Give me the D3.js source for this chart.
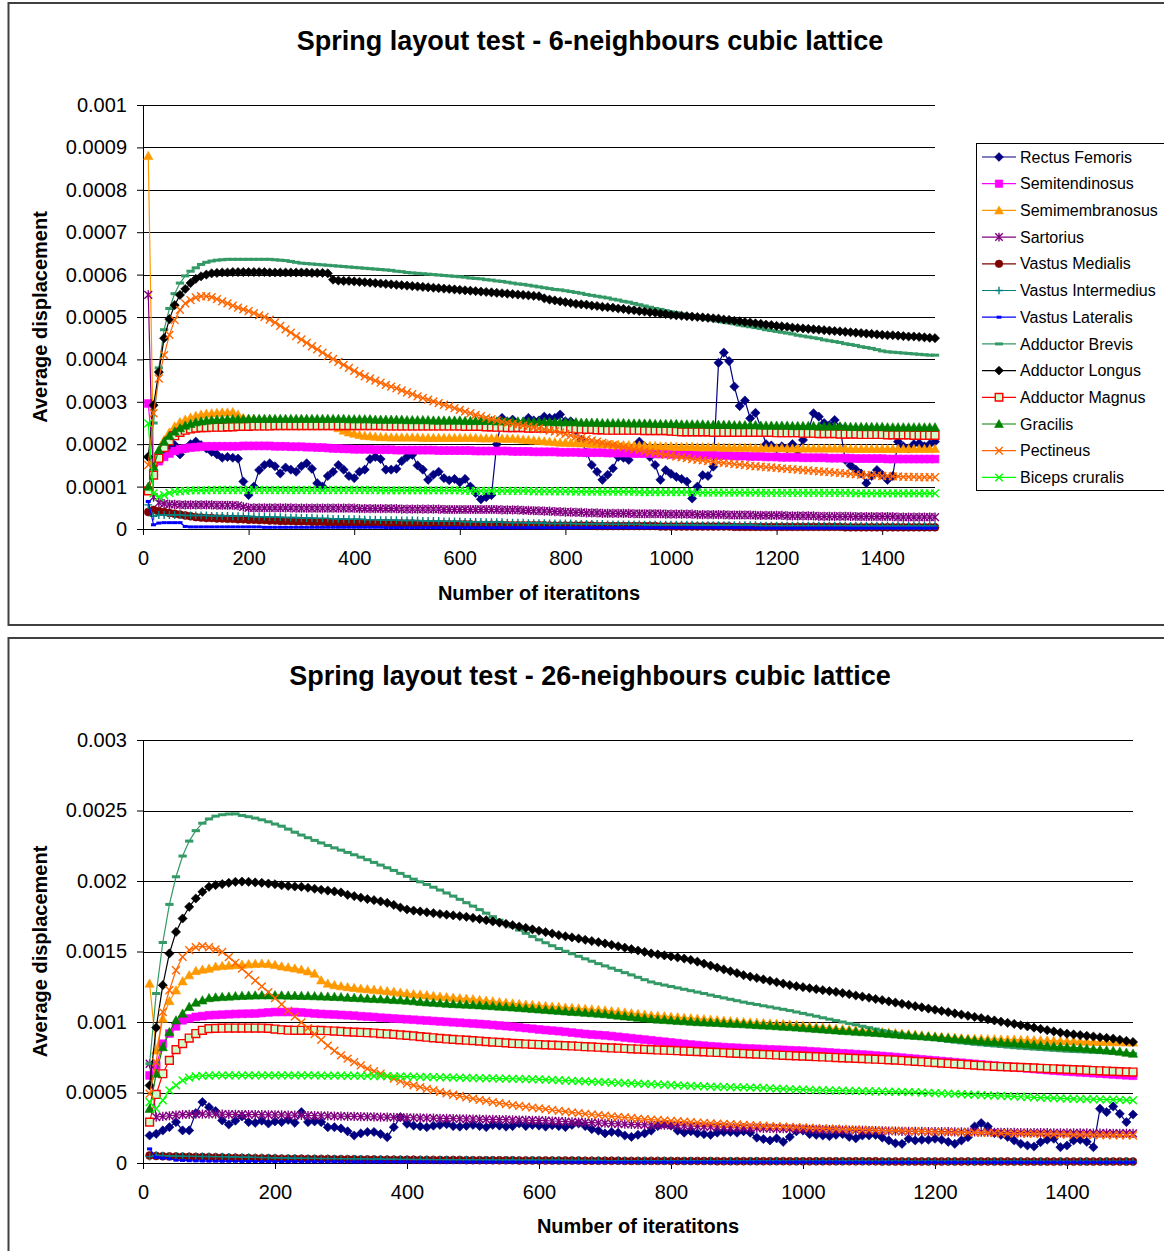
<!DOCTYPE html>
<html lang="en">
  <head>
    <meta charset="utf-8">
    <title>Spring layout test</title>
    <script src="https://cdnjs.cloudflare.com/ajax/libs/d3/7.8.5/d3.min.js"></script>
    <style>
      body { margin: 0; background: #fff; }
      svg text { font-family: "Liberation Sans", Arial, sans-serif; fill: #000; }
      .title { font-size: 27px; font-weight: bold; }
      .axis-title { font-size: 20px; font-weight: bold; }
      .axis text { font-size: 20px; }
      .legend-text { font-size: 16px; }
    </style>
  </head>
  <body>
    <script>
      // Sample points (iteration number) shared by every series
      const iterations = [
        10,20,30,40,50,60,70,80,90,100,
        110,120,130,140,150,160,170,180,190,200,
        210,220,230,240,250,260,270,280,290,300,
        310,320,330,340,350,360,370,380,390,400,
        410,420,430,440,450,460,470,480,490,500,
        510,520,530,540,550,560,570,580,590,600,
        610,620,630,640,650,660,670,680,690,700,
        710,720,730,740,750,760,770,780,790,800,
        810,820,830,840,850,860,870,880,890,900,
        910,920,930,940,950,960,970,980,990,1000,
        1010,1020,1030,1040,1050,1060,1070,1080,1090,1100,
        1110,1120,1130,1140,1150,1160,1170,1180,1190,1200,
        1210,1220,1230,1240,1250,1260,1270,1280,1290,1300,
        1310,1320,1330,1340,1350,1360,1370,1380,1390,1400,
        1410,1420,1430,1440,1450,1460,1470,1480,1490,1500
      ];

      const xTicks = [0, 200, 400, 600, 800, 1000, 1200, 1400];
      const yTicks6 = [0, 0.0001, 0.0002, 0.0003, 0.0004, 0.0005, 0.0006, 0.0007, 0.0008, 0.0009, 0.001];
      const yTicks26 = [0, 0.0005, 0.001, 0.0015, 0.002, 0.0025, 0.003];

      const muscles = [
        "Rectus Femoris", "Semitendinosus", "Semimembranosus", "Sartorius",
        "Vastus Medialis", "Vastus Intermedius", "Vastus Lateralis", "Adductor Brevis",
        "Adductor Longus", "Adductor Magnus", "Gracilis", "Pectineus", "Biceps cruralis"
      ];

      // all displacement values below are in millionths (1e-6)
      const unit = 1e-6;

      // ---- 6-neighbours lattice ----
      const rectusFemoris6 = [
        170,150,172,180,192,198,176,190,200,206,
        198,190,182,176,168,170,168,166,112,80,
        100,139,151,155,148,131,145,140,135,148,
        155,142,108,100,125,135,151,140,125,120,
        135,140,165,170,165,140,140,142,160,170,
        175,150,140,116,128,135,120,115,118,110,
        118,100,85,70,75,80,200,262,253,258,
        250,250,262,256,256,265,262,262,270,254,
        254,233,210,180,151,135,116,128,143,170,
        168,163,180,206,195,170,151,116,139,130,
        123,118,112,72,100,127,125,147,392,416,
        396,336,290,303,261,274,240,200,197,190,
        195,190,200,185,210,230,273,265,250,245,
        257,240,163,150,140,131,108,125,139,128,
        116,125,206,195,190,200,202,195,200,206
      ];
      const semitendinosus6 = [
        296,155,160,170,178,184,188,190,192,193,
        194,195,195,195,195,195,195,195,196,196,
        196,196,196,196,195,195,195,194,194,194,
        193,193,192,192,191,190,190,189,189,188,
        188,188,188,187,187,187,187,186,186,186,
        186,186,186,186,186,185,185,185,185,185,
        185,185,184,184,184,184,184,184,184,183,
        183,183,183,182,182,182,182,182,181,181,
        181,181,180,180,180,180,180,179,179,179,
        179,179,178,178,178,178,177,177,177,176,
        176,176,175,175,175,174,174,174,173,173,
        173,172,172,172,171,171,171,170,170,170,
        169,169,169,169,168,168,168,168,168,167,
        167,167,167,167,166,166,166,166,166,166,
        165,165,165,165,165,165,165,165,165,165
      ];
      const semimembranosus6 = [
        880,160,185,210,228,242,252,258,263,267,
        270,272,273,274,275,275,276,270,262,260,
        259,258,258,258,257,257,257,256,256,256,
        256,256,255,255,252,245,238,232,228,225,
        222,220,219,218,217,217,216,216,216,216,
        216,216,215,215,215,215,215,215,215,215,
        215,215,215,214,214,214,214,213,213,213,
        212,211,210,209,208,207,206,205,204,204,
        203,203,202,202,201,201,200,200,199,199,
        198,198,197,197,196,196,196,195,195,195,
        194,194,194,194,193,193,193,193,193,192,
        192,192,192,192,192,191,191,191,191,191,
        191,190,190,190,190,190,190,190,190,190,
        190,190,190,189,189,189,189,189,189,189,
        189,189,189,189,189,189,189,189,189,189
      ];
      const sartorius6 = [
        552,75,62,60,58,58,57,57,57,57,
        57,57,57,56,56,56,56,55,52,50,
        50,50,50,50,50,50,50,50,49,49,
        49,49,49,49,49,49,49,49,49,49,
        48,48,48,48,48,48,48,48,47,47,
        47,47,47,47,47,47,46,46,46,46,
        46,46,46,46,46,46,46,45,45,45,
        45,44,44,43,43,42,42,41,41,40,
        40,39,39,38,38,38,37,37,37,37,
        37,37,36,36,36,36,36,36,35,35,
        35,35,35,35,34,34,34,34,34,34,
        33,33,33,33,33,32,32,32,32,32,
        32,31,31,31,31,31,31,30,30,30,
        30,30,30,30,29,29,29,29,29,29,
        29,29,28,28,28,28,28,28,28,28
      ];
      const vastusMedialis6 = [
        40,45,42,40,38,36,34,32,30,28,
        27,26,26,25,25,24,24,23,23,22,
        22,21,21,20,20,19,19,19,18,18,
        18,17,17,17,16,16,16,16,15,15,
        15,15,14,14,14,14,13,13,13,13,
        13,12,12,12,12,12,11,11,11,11,
        11,11,10,10,10,10,10,10,9,9,
        9,9,9,9,9,9,8,8,8,8,
        8,8,8,8,8,7,7,7,7,7,
        7,7,7,7,7,7,7,6,6,6,
        6,6,6,6,6,6,6,6,6,6,
        6,5,5,5,5,5,5,5,5,5,
        5,5,5,5,5,5,5,5,5,5,
        5,5,4,4,4,4,4,4,4,4,
        4,4,4,4,4,4,4,4,4,4
      ];
      const vastusIntermedius6 = [
        57,30,33,33,33,33,33,32,32,32,
        32,32,31,31,31,31,30,30,30,30,
        29,29,29,28,28,28,27,27,27,26,
        26,26,25,25,25,24,24,24,23,23,
        23,22,22,22,21,21,21,21,20,20,
        20,20,19,19,19,19,18,18,18,18,
        17,17,17,17,16,16,16,16,15,15,
        15,15,14,14,14,14,13,13,13,13,
        13,12,12,12,12,12,12,11,11,11,
        11,11,11,11,10,10,10,10,10,10,
        10,10,10,10,9,9,9,9,9,9,
        9,9,9,9,9,9,8,8,8,8,
        8,8,8,8,8,8,8,8,8,8,
        8,8,8,7,7,7,7,7,7,7,
        7,7,7,7,7,7,7,7,7,7
      ];
      const vastusLateralis6 = [
        65,10,14,15,15,15,15,6,5,5,
        5,5,5,5,5,5,5,5,5,5,
        5,5,4,4,4,4,4,4,4,4,
        4,4,4,4,4,4,4,4,4,4,
        4,4,4,4,4,3,3,3,3,3,
        3,3,3,3,3,3,3,3,3,3,
        3,3,3,3,3,3,3,3,3,3,
        3,3,3,3,3,3,3,3,3,3,
        3,3,3,3,3,3,3,3,3,3,
        3,3,3,3,3,3,3,3,3,3,
        3,3,3,3,3,3,3,3,3,3,
        3,3,3,3,3,2,2,2,2,2,
        2,2,2,2,2,2,2,2,2,2,
        2,2,2,2,2,2,2,2,2,2,
        2,2,2,2,2,2,2,2,2,2
      ];
      const adductorBrevis6 = [
        170,250,380,470,520,555,580,597,608,616,
        624,629,632,634,635,636,636,636,636,636,
        636,636,636,636,635,634,633,631,629,627,
        626,625,624,623,622,621,620,619,618,617,
        616,615,614,613,612,611,610,608,607,605,
        604,603,602,601,600,599,598,597,596,595,
        594,592,591,590,588,587,585,584,582,580,
        578,577,575,573,571,569,567,565,564,562,
        560,558,556,553,551,549,547,545,542,540,
        537,535,532,529,526,523,520,518,515,512,
        510,507,505,502,500,498,495,493,490,488,
        486,484,481,479,477,475,473,470,468,466,
        464,462,460,457,455,453,451,449,446,444,
        442,440,437,435,433,430,428,426,423,420,
        418,417,416,415,414,413,412,411,410,410
      ];
      const adductorLongus6 = [
        170,292,370,450,495,528,552,566,580,590,
        596,600,603,604,605,605,606,606,606,606,
        606,606,606,605,605,605,605,605,605,605,
        605,604,604,604,603,588,586,585,585,584,
        583,582,581,580,579,578,577,576,575,574,
        573,572,571,570,569,568,567,566,565,564,
        563,562,561,560,559,558,557,556,555,554,
        553,552,551,550,549,544,541,539,537,535,
        533,531,530,529,527,526,524,523,522,520,
        519,517,516,514,513,511,510,508,507,505,
        504,503,502,501,500,499,498,497,496,494,
        493,491,490,488,487,485,484,482,481,479,
        478,477,475,474,473,472,471,470,469,468,
        467,466,465,464,463,462,461,460,459,458,
        457,457,456,455,454,454,453,452,451,450
      ];
      const adductorMagnus6 = [
        90,127,167,192,208,220,228,233,236,238,
        239,239,240,240,240,241,241,242,242,242,
        243,243,243,243,244,244,244,244,244,244,
        244,244,244,244,244,244,244,244,244,244,
        244,244,244,244,244,243,243,243,243,243,
        243,243,243,243,243,243,243,243,243,243,
        242,242,242,242,241,241,240,240,239,239,
        239,239,238,238,238,238,238,238,238,237,
        237,236,236,235,235,234,234,233,233,233,
        233,233,233,233,232,232,232,232,232,231,
        230,229,229,229,229,229,229,228,228,228,
        228,228,228,228,228,228,228,228,228,227,
        227,227,227,227,226,226,226,225,225,225,
        225,224,224,224,224,223,223,223,223,223,
        222,222,222,222,222,221,221,221,221,221
      ];
      const gracilis6 = [
        100,147,186,206,220,230,238,244,248,252,
        254,256,257,258,258,259,259,259,259,260,
        260,260,260,260,260,260,260,260,260,260,
        260,260,260,260,260,260,260,260,259,259,
        259,259,259,258,258,258,258,258,258,257,
        257,257,257,257,256,256,256,256,256,256,
        255,255,255,255,255,255,254,254,254,254,
        254,254,253,253,253,253,253,252,252,252,
        252,252,251,251,251,251,250,250,250,250,
        250,249,249,249,249,249,248,248,248,248,
        248,247,247,247,247,247,246,246,246,246,
        246,245,245,245,245,245,244,244,244,244,
        244,244,243,243,243,243,243,242,242,242,
        242,242,242,241,241,241,241,241,241,241,
        240,240,240,240,240,240,240,240,240,240
      ];
      const pectineus6 = [
        151,273,355,410,458,493,517,532,540,546,
        549,549,547,542,537,532,527,522,518,514,
        509,504,500,494,487,479,471,463,455,447,
        439,431,424,416,408,401,394,387,380,373,
        366,360,355,350,345,340,336,332,327,322,
        318,313,309,305,301,297,293,289,285,281,
        277,273,269,266,262,259,256,253,250,248,
        246,244,242,240,237,235,232,230,227,224,
        221,218,215,212,209,206,203,200,198,195,
        193,190,188,186,183,181,179,177,175,173,
        171,169,167,165,163,162,160,159,157,156,
        155,153,152,151,149,148,147,146,145,144,
        143,142,141,140,139,138,137,136,135,134,
        133,132,131,130,129,128,127,127,126,125,
        125,124,124,123,123,123,122,122,122,122
      ];
      const bicepsCruralis6 = [
        249,84,76,80,85,88,89,90,91,91,
        91,91,92,92,92,92,92,92,92,92,
        92,92,92,92,92,92,92,92,92,92,
        92,92,92,92,92,92,92,92,92,92,
        92,92,92,92,91,91,91,91,91,91,
        91,91,91,91,91,91,91,91,91,91,
        90,90,90,90,90,90,90,90,90,90,
        90,90,90,89,89,89,89,89,89,89,
        89,88,88,88,88,88,88,88,88,88,
        88,88,88,87,87,87,87,87,87,87,
        87,87,87,87,86,86,86,86,86,86,
        86,86,86,86,86,86,85,85,85,85,
        85,85,85,85,85,85,85,85,85,85,
        85,85,85,85,84,84,84,84,84,84,
        84,84,84,84,84,84,84,84,84,84
      ];

      // ---- 26-neighbours lattice ----
      const rectusFemoris26 = [
        195,207,231,254,290,231,231,354,432,396,
        368,302,273,300,330,290,285,300,280,295,
        290,305,285,361,290,295,290,254,254,245,
        225,195,210,220,220,205,183,254,325,278,
        265,260,254,265,270,275,262,258,264,270,
        262,255,270,265,258,262,280,262,270,265,
        258,268,262,255,270,280,262,240,230,210,
        220,215,195,185,200,210,230,262,275,265,
        230,215,225,210,205,200,215,220,220,215,
        225,215,180,170,160,175,150,185,225,230,
        205,200,195,190,200,205,185,175,195,195,
        200,180,160,140,136,172,160,165,165,172,
        165,150,136,160,183,259,283,259,212,200,
        185,160,136,124,117,148,165,172,112,124,
        160,165,150,112,385,361,401,349,290,344
      ];
      const semitendinosus26 = [
        621,692,846,918,969,1012,1025,1036,1042,1048,
        1050,1052,1055,1057,1058,1059,1060,1064,1068,1071,
        1071,1071,1071,1068,1064,1060,1057,1055,1053,1050,
        1048,1045,1041,1038,1035,1031,1028,1025,1022,1019,
        1016,1013,1010,1007,1004,1001,998,995,992,989,
        986,983,979,975,971,967,962,957,952,947,
        943,939,935,930,925,920,915,911,908,905,
        900,895,890,885,880,875,870,865,860,855,
        850,845,840,836,832,828,825,822,819,817,
        814,812,810,808,806,804,802,800,798,796,
        793,790,787,784,781,778,775,772,769,766,
        762,759,755,751,747,743,739,735,731,727,
        723,719,715,711,707,703,699,695,691,687,
        683,679,675,671,667,663,659,655,652,649,
        646,643,640,637,634,631,628,625,622,619
      ];
      const semimembranosus26 = [
        1273,799,1024,1149,1225,1289,1332,1362,1372,1379,
        1393,1398,1401,1404,1407,1410,1413,1415,1412,1405,
        1395,1388,1380,1372,1360,1344,1296,1273,1262,1254,
        1248,1242,1237,1233,1229,1225,1220,1215,1209,1204,
        1198,1195,1190,1185,1181,1177,1173,1170,1166,1162,
        1157,1152,1147,1142,1137,1132,1128,1124,1121,1117,
        1114,1110,1107,1103,1100,1096,1093,1090,1087,1083,
        1078,1073,1068,1063,1058,1053,1048,1044,1041,1037,
        1034,1030,1027,1024,1021,1017,1014,1010,1007,1003,
        1000,998,995,993,990,988,986,983,979,974,
        970,966,962,957,953,950,946,943,939,936,
        932,929,926,922,918,914,910,906,902,898,
        895,892,889,886,883,882,881,879,878,877,
        876,875,874,873,871,870,869,867,866,865,
        864,863,862,861,860,859,858,857,856,855
      ];
      const sartorius26 = [
        704,325,330,335,340,343,345,346,346,346,
        346,346,345,345,344,344,343,343,342,342,
        341,340,339,338,337,336,335,334,333,332,
        331,330,329,328,327,326,325,324,323,322,
        321,320,319,318,317,316,315,314,313,312,
        311,310,309,308,307,306,305,304,303,302,
        300,298,296,294,292,290,288,286,284,282,
        280,278,276,274,272,271,270,269,268,267,
        266,264,262,260,258,257,256,254,252,250,
        249,248,247,246,245,244,243,242,241,240,
        239,238,237,236,235,234,233,232,231,230,
        229,228,227,226,225,225,224,224,223,223,
        222,222,221,221,220,220,219,219,218,218,
        217,217,216,216,215,215,215,214,214,214,
        213,213,213,212,212,212,211,211,211,210
      ];
      const vastusMedialis26 = [
        53,50,48,47,46,45,44,43,42,41,
        40,39,38,37,36,35,34,33,33,32,
        31,31,30,30,29,29,28,28,27,27,
        26,26,25,25,25,24,24,24,23,23,
        23,22,22,22,21,21,21,21,20,20,
        20,20,19,19,19,19,18,18,18,18,
        18,17,17,17,17,17,16,16,16,16,
        16,16,15,15,15,15,15,15,15,14,
        14,14,14,14,14,14,13,13,13,13,
        13,13,13,13,13,13,13,12,12,12,
        12,12,12,12,12,12,12,12,12,12,
        12,11,11,11,11,11,11,11,11,11,
        11,11,11,11,11,11,11,11,11,11,
        11,10,10,10,10,10,10,10,10,10,
        10,10,10,10,10,10,10,10,10,10
      ];
      const vastusIntermedius26 = [
        45,55,52,50,49,48,47,47,46,46,
        45,45,44,43,42,41,40,39,38,37,
        36,35,34,34,33,33,32,32,31,31,
        30,30,29,29,28,28,27,27,26,26,
        25,25,25,24,24,24,23,23,23,22,
        22,22,21,21,21,21,20,20,20,20,
        19,19,19,19,18,18,18,18,18,17,
        17,17,17,17,16,16,16,16,16,16,
        15,15,15,15,15,15,15,14,14,14,
        14,14,14,14,14,14,13,13,13,13,
        13,13,13,13,13,13,13,13,13,12,
        12,12,12,12,12,12,12,12,12,12,
        12,12,12,12,12,12,12,12,12,12,
        12,12,12,12,12,11,11,11,11,11,
        11,11,11,11,11,11,11,11,11,11
      ];
      const vastusLateralis26 = [
        100,40,35,30,20,18,16,15,14,13,
        13,12,12,12,11,11,11,10,10,10,
        10,10,10,9,9,9,9,9,9,9,
        9,8,8,8,8,8,8,8,8,8,
        8,8,8,7,7,7,7,7,7,7,
        7,7,7,7,7,7,7,7,7,7,
        7,7,7,6,6,6,6,6,6,6,
        6,6,6,6,6,6,6,6,6,6,
        6,6,6,6,6,6,6,6,6,6,
        6,6,6,6,6,6,6,6,6,6,
        6,6,6,6,6,5,5,5,5,5,
        5,5,5,5,5,5,5,5,5,5,
        5,5,5,5,5,5,5,5,5,5,
        5,5,5,5,5,5,5,5,5,5,
        5,5,5,5,5,5,5,5,5,5
      ];
      const adductorBrevis26 = [
        704,1202,1564,1834,2030,2177,2283,2357,2410,2440,
        2460,2470,2475,2476,2465,2456,2446,2434,2420,2404,
        2389,2368,2346,2326,2307,2288,2270,2252,2235,2219,
        2203,2186,2169,2151,2132,2113,2094,2075,2054,2033,
        2013,1994,1975,1956,1936,1915,1893,1870,1846,1822,
        1797,1772,1747,1722,1698,1675,1652,1629,1606,1583,
        1562,1541,1521,1502,1484,1466,1448,1431,1414,1398,
        1382,1366,1350,1334,1317,1300,1284,1272,1262,1252,
        1242,1232,1222,1212,1202,1191,1181,1171,1161,1151,
        1141,1132,1124,1115,1107,1098,1090,1081,1071,1061,
        1051,1041,1030,1020,1010,1000,990,980,970,960,
        950,940,931,922,914,905,896,888,880,874,
        868,862,857,852,847,842,838,834,830,826,
        822,818,814,811,808,805,802,799,796,793,
        791,789,787,785,783,781,779,777,776,775
      ];
      const adductorLongus26 = [
        550,960,1261,1486,1639,1734,1817,1876,1923,1959,
        1971,1978,1987,1994,1996,1994,1990,1987,1982,1977,
        1970,1965,1961,1959,1952,1945,1938,1932,1926,1919,
        1902,1893,1882,1872,1864,1855,1845,1830,1812,1798,
        1790,1784,1778,1772,1766,1761,1756,1751,1746,1738,
        1730,1722,1713,1705,1696,1687,1677,1667,1657,1647,
        1637,1627,1616,1608,1600,1592,1583,1574,1566,1557,
        1547,1537,1527,1517,1507,1497,1486,1479,1472,1465,
        1458,1450,1440,1428,1414,1400,1386,1373,1360,1347,
        1332,1322,1312,1302,1292,1282,1272,1262,1254,1247,
        1240,1233,1226,1219,1213,1205,1197,1188,1180,1172,
        1163,1155,1146,1138,1129,1121,1112,1104,1095,1087,
        1078,1070,1061,1053,1044,1036,1028,1019,1011,1002,
        994,986,977,969,960,951,942,933,925,917,
        912,907,902,897,892,887,882,874,866,858
      ];
      const adductorMagnus26 = [
        290,486,633,728,804,847,886,918,941,953,
        955,956,957,957,957,957,957,957,955,950,
        945,942,941,941,941,941,940,938,936,933,
        930,928,926,924,922,918,915,912,908,905,
        901,896,892,888,884,880,877,874,871,868,
        865,861,858,855,852,848,846,844,842,840,
        838,836,834,832,830,828,825,823,821,818,
        816,814,812,810,808,806,804,802,800,798,
        796,794,792,790,788,786,784,782,780,778,
        776,774,772,770,768,766,764,762,760,758,
        756,754,752,750,748,746,744,742,740,738,
        736,734,732,730,727,724,721,718,715,712,
        709,706,703,700,697,694,691,688,686,684,
        682,680,678,676,674,672,670,668,666,664,
        662,660,658,656,654,652,650,648,646,645
      ];
      const gracilis26 = [
        385,634,822,929,1012,1060,1107,1138,1154,1170,
        1175,1178,1181,1184,1186,1188,1189,1190,1190,1190,
        1189,1188,1187,1186,1185,1184,1182,1181,1179,1177,
        1174,1172,1169,1167,1165,1162,1160,1157,1155,1152,
        1148,1144,1140,1137,1134,1131,1128,1126,1124,1121,
        1119,1116,1113,1110,1107,1104,1100,1097,1093,1090,
        1087,1083,1080,1076,1073,1070,1066,1063,1060,1056,
        1051,1046,1041,1036,1031,1026,1022,1018,1015,1012,
        1009,1006,1003,1000,998,996,994,991,989,987,
        985,982,979,976,974,971,968,965,962,958,
        955,952,948,945,941,938,935,932,929,926,
        923,920,916,912,908,905,902,899,896,893,
        889,885,881,877,873,869,865,862,859,856,
        853,850,847,843,839,835,831,828,825,822,
        819,816,812,808,804,800,796,790,783,776
      ];
      const pectineus26 = [
        491,716,1071,1225,1367,1462,1510,1530,1538,1530,
        1515,1497,1460,1420,1378,1336,1294,1253,1212,1170,
        1125,1080,1038,997,956,914,873,832,796,763,
        740,716,692,669,651,634,616,598,580,563,
        550,538,526,516,505,494,484,475,465,456,
        448,440,432,425,418,411,405,399,393,388,
        382,376,370,364,359,354,349,344,340,335,
        331,327,323,319,315,311,308,305,302,299,
        296,293,290,287,284,281,279,277,275,273,
        270,268,266,264,262,260,258,256,254,252,
        250,248,246,244,243,241,239,238,236,235,
        233,232,230,229,228,226,225,224,223,221,
        220,219,218,217,216,215,214,213,212,211,
        210,209,208,207,206,205,204,203,202,201,
        200,199,199,198,198,197,197,196,196,195
      ];
      const bicepsCruralis26 = [
        432,385,444,515,550,586,605,614,618,620,
        621,621,622,622,622,622,622,622,622,622,
        622,622,621,621,621,621,620,620,620,620,
        619,619,618,618,617,617,616,615,614,613,
        612,611,610,609,608,607,606,605,604,603,
        602,601,600,599,598,597,596,595,594,593,
        591,589,587,585,583,581,579,577,575,573,
        571,569,567,565,563,561,559,557,555,553,
        551,549,547,545,543,541,540,539,538,537,
        536,535,534,532,530,528,526,524,522,520,
        518,517,516,515,514,513,512,511,510,509,
        508,507,506,505,504,503,502,500,498,496,
        494,492,490,488,486,484,482,480,478,476,
        474,472,470,468,466,464,462,460,458,456,
        455,454,453,452,451,450,449,448,446,444
      ];

      const values6 = [
        rectusFemoris6, semitendinosus6, semimembranosus6, sartorius6,
        vastusMedialis6, vastusIntermedius6, vastusLateralis6, adductorBrevis6,
        adductorLongus6, adductorMagnus6, gracilis6, pectineus6, bicepsCruralis6
      ];
      const values26 = [
        rectusFemoris26, semitendinosus26, semimembranosus26, sartorius26,
        vastusMedialis26, vastusIntermedius26, vastusLateralis26, adductorBrevis26,
        adductorLongus26, adductorMagnus26, gracilis26, pectineus26, bicepsCruralis26
      ];

      // Excel-ish colour / marker per muscle, same order as `muscles`
      const seriesStyle = [
        { color: "#000080", marker: "diamond" },
        { color: "#FF00FF", marker: "square" },
        { color: "#FF9900", marker: "triangle" },
        { color: "#800080", marker: "asterisk" },
        { color: "#800000", marker: "circle" },
        { color: "#008080", marker: "plus" },
        { color: "#0000FF", marker: "dash" },
        { color: "#339966", marker: "bar" },
        { color: "#000000", marker: "diamond" },
        { color: "#FF0000", marker: "square", fill: "#CCFFCC" },
        { color: "#008000", marker: "triangle" },
        { color: "#FF6600", marker: "cross" },
        { color: "#00FF00", marker: "cross" }
      ];

      const W = 1164, H = 1251;
      const svg = d3.select("body").append("svg")
        .attr("width", W)
        .attr("height", H);

      function markerPath(kind, r) {
        const s = r * 0.85, c = r * 0.85;
        switch (kind) {
          case "diamond": return `M0,${-r}L${r},0L0,${r}L${-r},0Z`;
          case "square": return `M${-s},${-s}H${s}V${s}H${-s}Z`;
          case "triangle": return `M0,${-r}L${r},${r * 0.8}L${-r},${r * 0.8}Z`;
          case "circle": return d3.symbol(d3.symbolCircle, Math.PI * r * r * 0.75)();
          case "asterisk": return `M${-c},${-c}L${c},${c}M${-c},${c}L${c},${-c}M0,${-r}L0,${r}`;
          case "plus": return `M${-c},0H${c}M0,${-c}V${c}`;
          case "cross": return `M${-c},${-c}L${c},${c}M${-c},${c}L${c},${-c}`;
          case "dash": return `M${-r * 0.55},0H${r * 0.55}`;
          case "bar": return `M${-r * 0.9},0H${r * 0.9}`;
        }
      }
      const filled = { diamond: true, square: true, triangle: true, circle: true };

      function styleMarker(sel, st) {
        if (filled[st.marker]) {
          sel.attr("fill", st.fill || st.color)
             .attr("stroke", st.color)
             .attr("stroke-width", st.fill ? 1.4 : 0.6);
        } else {
          sel.attr("fill", "none")
             .attr("stroke", st.color)
             .attr("stroke-width", (st.marker === "dash" || st.marker === "bar") ? 3 : 1.4);
        }
      }

      function drawChart(cfg) {
        const g = svg.append("g");

        // outer chart frame (runs off the right edge like the screenshot)
        g.append("rect")
          .attr("x", 8.5).attr("y", cfg.frameTop)
          .attr("width", 1200).attr("height", cfg.frameHeight)
          .attr("fill", "#fff")
          .attr("stroke", "#404040")
          .attr("stroke-width", 2);

        g.append("text")
          .attr("class", "title")
          .attr("x", cfg.titleX).attr("y", cfg.titleY)
          .attr("dy", "0.35em")
          .attr("text-anchor", "middle")
          .text(cfg.title);

        const x = d3.scaleLinear().domain([0, 1500]).range([cfg.left, cfg.right]);
        const y = d3.scaleLinear().domain([0, cfg.yMax]).range([cfg.bottom, cfg.top]);

        // horizontal gridlines
        g.append("g").selectAll("line")
          .data(cfg.yTicks.filter(d => d > 0))
          .join("line")
          .attr("x1", cfg.left).attr("x2", cfg.right)
          .attr("y1", d => Math.round(y(d)) + 0.5).attr("y2", d => Math.round(y(d)) + 0.5)
          .attr("stroke", "#000").attr("stroke-width", 1);

        g.append("g")
          .attr("class", "axis")
          .attr("transform", `translate(${cfg.left},0)`)
          .call(d3.axisLeft(y).tickValues(cfg.yTicks).tickFormat(d => String(d))
            .tickSize(6).tickSizeOuter(0).tickPadding(10));

        g.append("g")
          .attr("class", "axis")
          .attr("transform", `translate(0,${cfg.bottom})`)
          .call(d3.axisBottom(x).tickValues(xTicks).tickFormat(d => String(d))
            .tickSize(6).tickSizeOuter(0).tickPadding(16));

        g.selectAll(".axis .domain, .axis line").attr("stroke", "#000");
        g.selectAll(".axis text").attr("fill", "#000").attr("font-family", null);

        // axis titles
        g.append("text")
          .attr("class", "axis-title")
          .attr("x", (cfg.left + cfg.right) / 2).attr("y", cfg.xTitleY)
          .attr("dy", "0.35em")
          .attr("text-anchor", "middle")
          .text("Number of iteratitons");

        g.append("text")
          .attr("class", "axis-title")
          .attr("transform", `translate(40,${(cfg.top + cfg.bottom) / 2}) rotate(-90)`)
          .attr("dy", "0.35em")
          .attr("text-anchor", "middle")
          .text("Average displacement");

        const line = d3.line().x(d => x(d[0])).y(d => y(d[1]));

        cfg.values.forEach((vals, i) => {
          const st = seriesStyle[i];
          const pts = iterations.map((it, k) => [it, vals[k] * unit]);
          const sg = g.append("g");
          sg.append("path")
            .datum(pts)
            .attr("d", line)
            .attr("fill", "none")
            .attr("stroke", st.color)
            .attr("stroke-width", 1.2);
          const mk = sg.selectAll("path.mk")
            .data(pts)
            .join("path")
            .attr("class", "mk")
            .attr("transform", d => `translate(${x(d[0])},${y(d[1])})`)
            .attr("d", markerPath(st.marker, cfg.markerR));
          styleMarker(mk, st);
        });

        if (cfg.legend) {
          const lg = g.append("g");
          lg.append("rect")
            .attr("x", 976.5).attr("y", 143.5)
            .attr("width", 300).attr("height", 347)
            .attr("fill", "#fff")
            .attr("stroke", "#000").attr("stroke-width", 1);
          muscles.forEach((name, i) => {
            const st = seriesStyle[i];
            const ly = 157 + i * 26.7;
            lg.append("line")
              .attr("x1", 982).attr("x2", 1016)
              .attr("y1", ly).attr("y2", ly)
              .attr("stroke", st.color).attr("stroke-width", 1.2);
            const m = lg.append("path")
              .attr("transform", `translate(999,${ly})`)
              .attr("d", markerPath(st.marker, 4.4));
            styleMarker(m, st);
            lg.append("text")
              .attr("class", "legend-text")
              .attr("x", 1020).attr("y", ly)
              .attr("dy", "0.35em")
              .text(name);
          });
        }
      }

      drawChart({
        frameTop: 3, frameHeight: 622,
        title: "Spring layout test - 6-neighbours cubic lattice",
        titleX: 590, titleY: 41,
        left: 143, right: 935, top: 105, bottom: 529,
        yMax: 0.001, yTicks: yTicks6,
        xTitleY: 593,
        values: values6, markerR: 4.6, legend: true
      });

      drawChart({
        frameTop: 638, frameHeight: 700,
        title: "Spring layout test - 26-neighbours cubic lattice",
        titleX: 590, titleY: 676,
        left: 143, right: 1133, top: 740, bottom: 1163,
        yMax: 0.003, yTicks: yTicks26,
        xTitleY: 1226,
        values: values26, markerR: 4.6, legend: false
      });
    </script>
  </body>
</html>
